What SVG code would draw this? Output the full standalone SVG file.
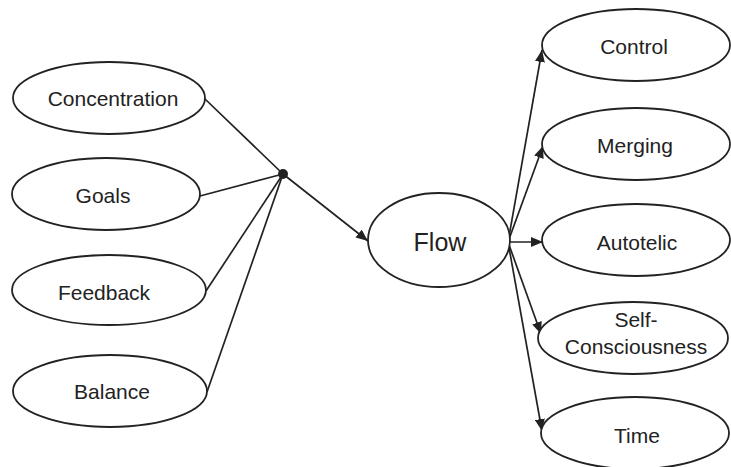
<svg xmlns="http://www.w3.org/2000/svg" width="731" height="467" viewBox="0 0 731 467">
  <style>
    .node ellipse { fill: #fff; stroke: #222; stroke-width: 1.8; }
    .node text { font-family: "Liberation Sans", Arial, sans-serif; font-size: 21px; fill: #222; text-anchor: middle; }
    .edges line { stroke: #222; stroke-width: 1.7; }
    .edges .arrow { marker-end: url(#head); }
  </style>
  <defs>
    <marker id="head" viewBox="0 0 12 10" refX="12" refY="5" markerWidth="12" markerHeight="10" markerUnits="userSpaceOnUse" orient="auto">
      <path d="M0,0 L12,5 L0,10 Z" fill="#222"/>
    </marker>
  </defs>
  <rect width="731" height="467" fill="#fff"/>

  <!-- connectors -->
  <g id="edges" class="edges">
    <line x1="205" y1="99" x2="283" y2="174"/>
    <line class="arrow" x1="283" y1="174" x2="368" y2="241"/>
    <line x1="200" y1="196" x2="283" y2="174"/>
    <line x1="206" y1="291" x2="283" y2="174"/>
    <line x1="207" y1="392" x2="283" y2="174"/>
    <circle cx="283" cy="174" r="5" fill="#222"/>
    <line class="arrow" x1="508" y1="242" x2="542" y2="50"/>
    <line class="arrow" x1="508" y1="242" x2="543" y2="146"/>
    <line class="arrow" x1="508" y1="242" x2="543" y2="242"/>
    <line class="arrow" x1="508" y1="242" x2="541" y2="334"/>
    <line class="arrow" x1="508" y1="242" x2="542" y2="431"/>
  </g>

  <!-- inputs -->
  <g id="concentration" class="node">
    <ellipse cx="109" cy="98" rx="96" ry="36"/>
    <text x="113" y="106">Concentration</text>
  </g>
  <g id="goals" class="node">
    <ellipse cx="106" cy="194" rx="94" ry="36"/>
    <text x="103" y="203">Goals</text>
  </g>
  <g id="feedback" class="node">
    <ellipse cx="109" cy="290" rx="97" ry="35"/>
    <text x="104" y="300">Feedback</text>
  </g>
  <g id="balance" class="node">
    <ellipse cx="110" cy="391" rx="97" ry="36"/>
    <text x="112" y="399">Balance</text>
  </g>

  <!-- centre -->
  <g id="flow" class="node">
    <ellipse cx="439" cy="240" rx="71" ry="47"/>
    <text x="440" y="251" style="font-size:25px">Flow</text>
  </g>

  <!-- outcomes -->
  <g id="control" class="node">
    <ellipse cx="636" cy="45" rx="94" ry="36"/>
    <text x="634" y="54">Control</text>
  </g>
  <g id="merging" class="node">
    <ellipse cx="636" cy="144" rx="94" ry="36"/>
    <text x="635" y="153">Merging</text>
  </g>
  <g id="autotelic" class="node">
    <ellipse cx="636" cy="240" rx="94" ry="36"/>
    <text x="637" y="250">Autotelic</text>
  </g>
  <g id="self-consciousness" class="node">
    <ellipse cx="633" cy="338" rx="95" ry="36"/>
    <text x="636" y="327">Self-</text>
    <text x="636" y="354">Consciousness</text>
  </g>
  <g id="time" class="node">
    <ellipse cx="635" cy="433" rx="94" ry="36"/>
    <text x="637" y="443">Time</text>
  </g>
</svg>
